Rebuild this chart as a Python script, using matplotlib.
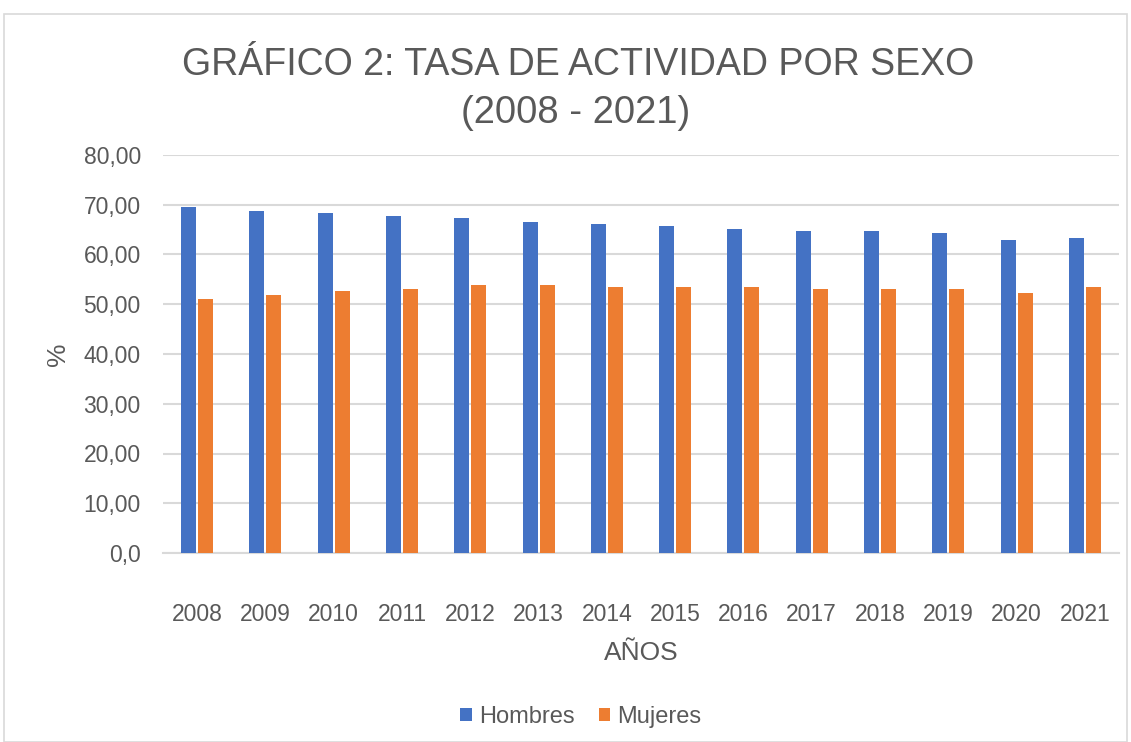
import matplotlib
matplotlib.use("Agg")
import matplotlib.pyplot as plt
import numpy as np
from matplotlib.patches import Rectangle

years = ["2008", "2009", "2010", "2011", "2012", "2013", "2014",
         "2015", "2016", "2017", "2018", "2019", "2020", "2021"]
hombres = [69.5, 68.7, 68.3, 67.8, 67.3, 66.5, 66.1,
           65.7, 65.2, 64.8, 64.8, 64.3, 63.0, 63.4]
mujeres = [51.0, 51.8, 52.6, 53.0, 53.9, 53.9, 53.4,
           53.4, 53.4, 53.0, 53.0, 53.0, 52.2, 53.4]
yticks = [0, 10, 20, 30, 40, 50, 60, 70, 80]
ytick_labels = ["0,0", "10,00", "20,00", "30,00", "40,00", "50,00", "60,00", "70,00", "80,00"]

plt.rcParams['font.family'] = ['Liberation Sans', 'DejaVu Sans']
TXT = "#595959"
BLUE = "#4472C4"
ORANGE = "#ED7D31"

fig = plt.figure(figsize=(11.31, 7.42), dpi=100)
fig.patches.append(Rectangle((4/1131, 0), (1127-4)/1131, 1 - 14/742,
                             transform=fig.transFigure, fill=False,
                             edgecolor="#d9d9d9", linewidth=1.2))

ax = fig.add_axes([163/1131, 1 - 553/742, (1119 - 163)/1131, (553 - 155)/742])
x = np.arange(len(years))
w = 0.22
gap = 0.03
ax.bar(x - (w + gap) / 2, hombres, width=w, color=BLUE, label="Hombres", zorder=3)
ax.bar(x + (w + gap) / 2, mujeres, width=w, color=ORANGE, label="Mujeres", zorder=3)

ax.set_xlim(-0.5, len(years) - 0.5)
ax.set_ylim(0, 80)
ax.set_yticks(yticks)
ax.set_yticklabels(ytick_labels, fontsize=16.5, color=TXT)
ax.set_xticks(x)
ax.set_xticklabels(years, fontsize=16.5, color=TXT)
ax.tick_params(axis='x', length=0, pad=36)
ax.tick_params(axis='y', length=0, pad=16)
ax.grid(axis='y', color="#d9d9d9", linewidth=1.5, zorder=0)
for s in ["top", "right", "left"]:
    ax.spines[s].set_visible(False)
ax.spines["bottom"].set_color("#d9d9d9")
ax.spines["bottom"].set_linewidth(1.5)

ax.set_ylabel("%", fontsize=19, color=TXT, labelpad=10)
ax.set_xlabel("AÑOS", fontsize=19, color=TXT, labelpad=11)

fig.text(578/1131, 1 - 75/742, "GRÁFICO 2: TASA DE ACTIVIDAD POR SEXO", ha="center", va="baseline",
         fontsize=27, color=TXT)
fig.text(576/1131, 1 - 123/742, "(2008 - 2021)", ha="center", va="baseline",
         fontsize=27.5, color=TXT)

fig.legend(loc="center", bbox_to_anchor=(581/1131, 1 - 717/742), ncol=2, frameon=False,
           fontsize=17, labelcolor=TXT, handlelength=0.5, handleheight=0.5,
           handletextpad=0.3, columnspacing=1.0)

fig.savefig("out.png", dpi=100)
